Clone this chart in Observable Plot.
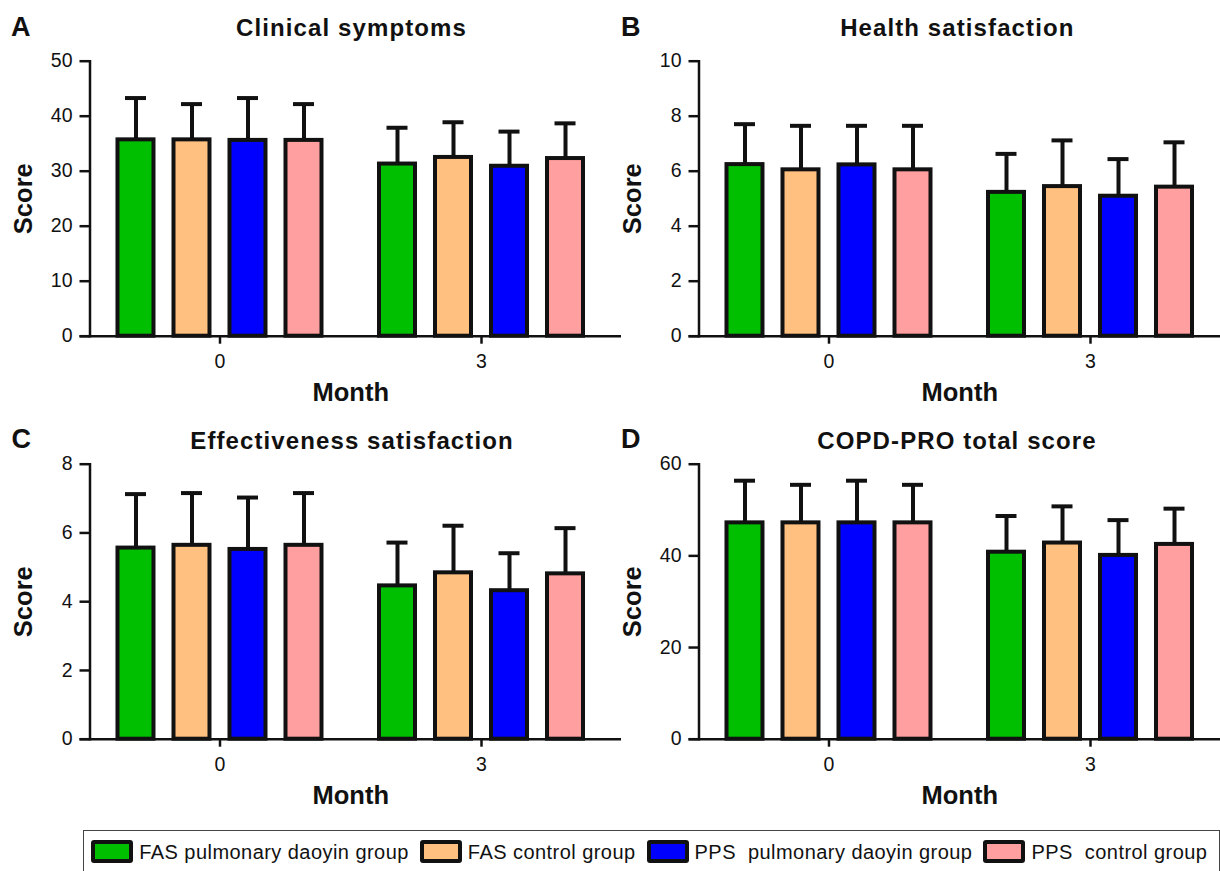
<!DOCTYPE html>
<html>
<head>
<meta charset="utf-8">
<script src="https://cdn.jsdelivr.net/npm/d3@7"></script>
<script src="https://cdn.jsdelivr.net/npm/@observablehq/plot@0.6"></script>
<style>
  html, body { margin: 0; padding: 0; background: #fff; overflow: hidden; }
  #root { position: relative; width: 1220px; height: 871px; overflow: hidden; font-family: "Liberation Sans", Arial, sans-serif; color: #111; }
  .panel { position: absolute; }
  .title { position: absolute; font-weight: bold; font-size: 24px; letter-spacing: 1.1px; white-space: nowrap; line-height: 1; transform: translateX(-50%); }
  .letter { position: absolute; font-weight: bold; font-size: 27px; line-height: 1; }
  svg [aria-label="x-axis label"], svg [aria-label="y-axis label"] { font-size: 25.5px; font-weight: bold; }
  #legend { position: absolute; left: 83px; top: 830px; width: 1137px; height: 50px; box-sizing: border-box; border: 1.5px solid #444; }
  #legend .items { position: absolute; left: 7.2px; top: 9.2px; height: 23px; display: flex; align-items: center; white-space: pre; font-size: 20px; letter-spacing: 0.45px; }
  #legend .sw { width: 42px; height: 23px; box-sizing: border-box; border: 4px solid #111; border-radius: 3px; margin-right: 6px; }
  #legend .lab { margin-right: 11px; line-height: 1; }
</style>
</head>
<body>
<div id="root"></div>
<script>
// ---------- data ----------
const months = ["0", "3"];
const groups = ["FAS pulmonary daoyin group", "FAS control group", "PPS  pulmonary daoyin group", "PPS  control group"];
const colors = ["#00BF00", "#FFC080", "#0000FF", "#FF9F9F"];

const clinicalMean0 = [35.7, 35.7, 35.6, 35.6];
const clinicalMean3 = [31.3, 32.5, 30.9, 32.3];
const clinicalSD0 = [7.6, 6.5, 7.7, 6.6];
const clinicalSD3 = [6.6, 6.4, 6.3, 6.4];
const clinicalTicks = [0, 10, 20, 30, 40, 50];

const healthMean0 = [6.24, 6.05, 6.23, 6.05];
const healthMean3 = [5.23, 5.44, 5.09, 5.42];
const healthSD0 = [1.47, 1.60, 1.42, 1.60];
const healthSD3 = [1.40, 1.68, 1.35, 1.63];
const healthTicks = [0, 2, 4, 6, 8, 10];

const effectMean0 = [5.56, 5.64, 5.52, 5.64];
const effectMean3 = [4.46, 4.84, 4.32, 4.81];
const effectSD0 = [1.57, 1.52, 1.51, 1.52];
const effectSD3 = [1.26, 1.37, 1.09, 1.33];
const effectTicks = [0, 2, 4, 6, 8];

const totalMean0 = [47.2, 47.2, 47.2, 47.2];
const totalMean3 = [40.8, 42.8, 40.1, 42.5];
const totalSD0 = [9.2, 8.3, 9.2, 8.3];
const totalSD3 = [7.9, 8.0, 7.7, 7.8];
const totalTicks = [0, 20, 40, 60];

const panels = [
  {letter: "A", title: "Clinical symptoms", means: [clinicalMean0, clinicalMean3], sds: [clinicalSD0, clinicalSD3], ticks: clinicalTicks},
  {letter: "B", title: "Health satisfaction", means: [healthMean0, healthMean3], sds: [healthSD0, healthSD3], ticks: healthTicks},
  {letter: "C", title: "Effectiveness satisfaction", means: [effectMean0, effectMean3], sds: [effectSD0, effectSD3], ticks: effectTicks},
  {letter: "D", title: "COPD-PRO total score", means: [totalMean0, totalMean3], sds: [totalSD0, totalSD3], ticks: totalTicks}
];

// ---------- layout ----------
const layout = [
  {left: 0, top: 40, extendRight: -10, titleX: 351.5, titleTop: 15.7, letterX: 11, letterTop: 13.8},
  {left: 609, top: 40, extendRight: 0, titleX: 957.3, titleTop: 15.7, letterX: 621, letterTop: 13.8},
  {left: 0, top: 443.3, extendRight: -10, titleX: 352, titleTop: 428.7, letterX: 11.5, letterTop: 425.5},
  {left: 609, top: 443.3, extendRight: 0, titleX: 957, titleTop: 428.7, letterX: 621, letterTop: 425.5}
];

const W = 622, H = 380, ML = 89.5, MR = 11, MT = 20.7, MB = 84.3;
const PI = 0.1434, PO = 0.0688;
const ink = "#111";
const root = document.getElementById("root");

panels.forEach((p, k) => {
  const L = layout[k];
  const band = d3.scaleBand().domain(months).range([ML, W - MR]).paddingInner(PI).paddingOuter(PO);
  const slot = band.bandwidth() / groups.length;
  const barInset = (slot - 36) / 2;
  const capInset = (slot - 21) / 2;
  const rows = months.flatMap((m, mi) => groups.map((g, gi) => ({month: m, group: g, gi, mean: p.means[mi][gi], sd: p.sds[mi][gi]})));

  const marks = [];
  groups.forEach((g, gi) => {
    const d = rows.filter(r => r.gi === gi);
    marks.push(Plot.ruleX(d, {x: "month", y1: "mean", y2: r => r.mean + r.sd, dx: slot * (gi - 1.5), stroke: ink, strokeWidth: 4}));
    marks.push(Plot.tickY(d, {x: "month", y: r => r.mean + r.sd, insetLeft: slot * gi + capInset, insetRight: slot * (groups.length - 1 - gi) + capInset, stroke: ink, strokeWidth: 4}));
    marks.push(Plot.barY(d, {x: "month", y: "mean", fill: colors[gi], stroke: ink, strokeWidth: 4, insetLeft: slot * gi + barInset, insetRight: slot * (groups.length - 1 - gi) + barInset}));
  });

  const chart = Plot.plot({
    width: W, height: H,
    marginLeft: ML, marginRight: MR, marginTop: MT, marginBottom: MB,
    style: {background: "transparent", fontSize: "19.5px", fontFamily: "'Liberation Sans', Arial, sans-serif", color: ink, overflow: "visible"},
    x: {domain: months, paddingInner: PI, paddingOuter: PO, round: false},
    y: {domain: [0, p.ticks[p.ticks.length - 1]]},
    marks: [
      ...marks,
      Plot.ruleY([0], {stroke: ink, strokeWidth: 2.5, insetLeft: -10, insetRight: L.extendRight}),
      Plot.frame({anchor: "left", stroke: ink, strokeWidth: 2.5}),
      Plot.axisY({ticks: p.ticks, tickSize: 10, tickPadding: 7.5, strokeWidth: 2.5, label: "Score", labelArrow: "none", labelAnchor: "center", labelOffset: 76}),
      Plot.axisX({tickSize: 8, tickPadding: 9.6, strokeWidth: 2.5, label: "Month", labelArrow: "none", labelAnchor: "center", labelOffset: 65})
    ]
  });
  chart.classList.add("panel");
  chart.style.left = L.left + "px";
  chart.style.top = L.top + "px";
  root.appendChild(chart);

  const t = document.createElement("div");
  t.className = "title";
  t.textContent = p.title;
  t.style.left = L.titleX + "px";
  t.style.top = L.titleTop + "px";
  root.appendChild(t);

  const l = document.createElement("div");
  l.className = "letter";
  l.textContent = p.letter;
  l.style.left = L.letterX + "px";
  l.style.top = L.letterTop + "px";
  root.appendChild(l);
});

// ---------- legend ----------
const legend = document.createElement("div");
legend.id = "legend";
const items = document.createElement("div");
items.className = "items";
groups.forEach((g, i) => {
  const sw = document.createElement("div");
  sw.className = "sw";
  sw.style.background = colors[i];
  const lab = document.createElement("span");
  lab.className = "lab";
  lab.textContent = g;
  items.appendChild(sw);
  items.appendChild(lab);
});
legend.appendChild(items);
root.appendChild(legend);
</script>
</body>
</html>
